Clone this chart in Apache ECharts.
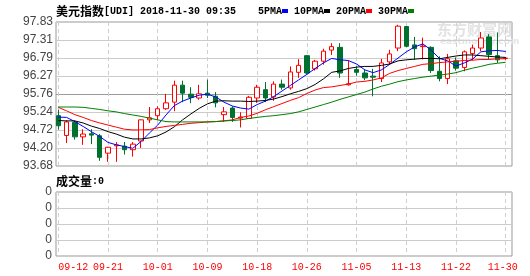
<!DOCTYPE html>
<html><head><meta charset="utf-8">
<script src="https://cdn.jsdelivr.net/npm/echarts@6/dist/echarts.min.js"></script>
<style>html,body{margin:0;padding:0;background:#fff}#c{width:530px;height:276px}</style>
</head><body><div id="c"></div>
<script>
const dates = ['09-12','09-13','09-14','09-17','09-18','09-20','09-21','09-24','09-25','09-26','09-27','09-28',
'10-01','10-02','10-03','10-04','10-05','10-08','10-09','10-10','10-11','10-12','10-15','10-16','10-18','10-19',
'10-22','10-23','10-24','10-25','10-26','10-29','10-30','10-31','11-01','11-02','11-05','11-06','11-07','11-08',
'11-09','11-12','11-13','11-14','11-15','11-16','11-19','11-20','11-22','11-23','11-26','11-27','11-28','11-29','11-30'];
const openV  = [95.13,94.56,94.94,94.52,94.61,94.55,94.05,94.26,94.25,94.15,94.40,95.01,95.13,95.33,95.52,96.01,95.75,95.64,95.78,95.69,
95.16,95.35,95.06,95.05,95.64,95.88,95.67,96.04,95.93,96.38,96.86,96.48,96.70,97.02,97.10,96.02,96.46,96.36,96.27,96.20,
96.68,97.08,97.70,97.17,97.12,97.10,96.41,96.20,96.71,96.52,96.92,97.08,97.40,96.86,96.78];
const closeV = [94.84,94.95,94.52,94.60,94.57,93.93,94.22,94.29,94.15,94.31,95.01,95.07,95.33,95.50,96.01,95.78,95.66,95.76,95.72,95.50,
95.24,95.08,95.09,95.66,95.95,95.64,96.04,95.95,96.39,96.58,96.36,96.70,96.99,97.12,96.36,96.05,96.38,96.22,96.24,96.65,
96.91,97.71,97.13,97.06,97.14,96.43,96.20,96.77,96.50,96.97,97.08,97.37,96.89,96.74,96.79];
const lowV   = [94.73,94.34,94.44,94.29,94.31,93.83,93.80,93.80,94.01,93.95,94.20,94.92,95.01,95.30,95.26,95.52,95.49,95.59,95.64,95.37,
94.95,94.95,94.79,95.04,95.50,95.52,95.56,95.88,95.88,96.22,96.32,96.43,96.60,96.88,96.22,96.00,96.28,96.15,95.69,96.10,
96.60,96.99,97.10,96.74,96.75,96.36,96.12,96.04,96.43,96.41,96.72,96.99,96.76,96.65,96.74];
const highV  = [95.30,95.00,94.99,94.74,94.74,94.60,94.23,94.37,94.37,94.37,95.02,95.38,95.40,95.76,96.14,96.14,95.95,96.02,96.17,95.81,
95.38,95.40,95.23,95.70,96.02,96.10,96.12,96.17,96.55,96.76,96.88,96.74,97.06,97.22,97.22,96.72,96.55,96.46,96.48,96.77,
97.03,97.75,97.71,97.40,97.38,97.13,96.84,96.91,96.81,97.01,97.18,97.54,97.48,97.53,96.82];
const ma5  = [95.09,95.08,94.96,94.82,94.67,94.53,94.36,94.29,94.24,94.19,94.39,94.63,94.86,95.15,95.42,95.55,95.64,95.72,95.75,95.67,
95.52,95.41,95.35,95.32,95.45,95.55,95.68,95.84,96.00,96.16,96.32,96.49,96.65,96.78,96.74,96.72,96.62,96.45,96.37,96.45,
96.61,96.79,96.97,97.11,97.20,97.02,96.78,96.71,96.56,96.65,96.76,96.97,97.00,97.01,96.98];
const ma10 = [94.99,94.98,94.98,94.92,94.83,94.76,94.67,94.60,94.51,94.46,94.46,94.49,94.55,94.66,94.81,95.01,95.18,95.34,95.47,95.55,
95.56,95.55,95.55,95.54,95.55,95.57,95.61,95.68,95.76,95.83,95.91,96.03,96.19,96.38,96.42,96.49,96.53,96.55,96.55,96.58,
96.62,96.71,96.74,96.76,96.78,96.78,96.77,96.81,96.85,96.88,96.88,96.86,96.84,96.82,96.81];
const ma20 = [95.37,95.27,95.16,95.08,94.99,94.92,94.86,94.80,94.74,94.72,94.72,94.73,94.78,94.82,94.85,94.88,94.91,94.93,94.95,94.96,
94.98,95.01,95.08,95.12,95.20,95.30,95.39,95.48,95.57,95.65,95.77,95.87,95.94,95.96,96.00,96.04,96.10,96.12,96.16,96.22,
96.35,96.43,96.49,96.55,96.61,96.63,96.66,96.68,96.70,96.72,96.73,96.75,96.75,96.77,96.77];
const ma30 = [95.38,95.38,95.38,95.37,95.34,95.31,95.27,95.24,95.19,95.15,95.11,95.06,95.01,94.96,94.95,94.95,94.95,94.95,94.95,94.96,
94.98,94.99,95.01,95.05,95.08,95.11,95.13,95.16,95.19,95.24,95.31,95.38,95.45,95.52,95.60,95.67,95.74,95.81,95.90,95.98,
96.04,96.11,96.16,96.20,96.24,96.27,96.30,96.33,96.37,96.44,96.50,96.55,96.61,96.64,96.67];
const volume = dates.map(() => 0);
const yTickLabels = ['93.68','94.20','94.72','95.24','95.76','96.27','96.79','97.31','97.83'];
const volTickLabels = ['0','0','0','0','0'];
const yMin = 93.68, yMax = 97.83;
const labelStep = 6;

const kData = openV.map((o, i) => [o, closeV[i], lowV[i], highV[i]]);
const MONO = 'Liberation Mono';
const CJK = 'Noto Sans CJK SC';
const RED = '#ff0000', DOWN = '#00702f';

const chart = echarts.init(document.getElementById('c'), null, {renderer: 'canvas'});
const frameGrid = {show: true, borderColor: '#999', borderWidth: 1, backgroundColor: 'transparent', outerBoundsMode: 'none', containLabel: false};
const dataGrid = {show: false, outerBoundsMode: 'none', containLabel: false};
const hiddenX = (g) => ({type: 'value', gridIndex: g, min: 0, max: 1, show: false});
const stepFn = (i) => i % labelStep === 0;

chart.setOption({
  animation: false,
  backgroundColor: '#fff',
  title: [
    {left: 56, top: 4, padding: 0,
     text: '{c|美元指数}{m|[UDI] 2018-11-30 09:35}',
     textStyle: {rich: {c: {fontFamily: CJK, fontSize: 12, color: '#000', lineHeight: 14},
                        m: {fontFamily: MONO, fontSize: 10, color: '#000', lineHeight: 14}}}},
    {left: 258, top: 4, padding: 0,
     text: '{m|5PMA}{b|}{m| 10PMA}{k|}{m| 20PMA}{r|}{m| 30PMA}{g|}',
     textStyle: {rich: {m: {fontFamily: MONO, fontSize: 10, color: '#000', lineHeight: 14},
                        b: {width: 6, height: 4, backgroundColor: '#0000ff'},
                        k: {width: 6, height: 4, backgroundColor: '#000000'},
                        r: {width: 6, height: 4, backgroundColor: '#ff0000'},
                        g: {width: 6, height: 4, backgroundColor: '#008000'}}}},
    {left: 56, top: 174, padding: 0,
     text: '{c|成交量}{m|:0}',
     textStyle: {rich: {c: {fontFamily: CJK, fontSize: 12, color: '#000', lineHeight: 14},
                        m: {fontFamily: MONO, fontSize: 10, color: '#000', lineHeight: 14}}}}
  ],
  graphic: [
    {type: 'text', left: 437, top: 22, z: 0, silent: true,
     style: {text: '东方财富网', font: 'bold 15px "Noto Sans CJK SC"', fill: '#e2e2e2'}},
    {type: 'text', left: 440, top: 37, z: 0, silent: true,
     style: {text: 'eastmoney.com', font: 'bold 9px "DejaVu Sans"', fill: '#e6e6e6'}}
  ],
  grid: [
    Object.assign({left: 56, top: 22, width: 456, height: 144}, frameGrid),
    Object.assign({left: 58.3, top: 22, width: 447.4, height: 144}, dataGrid),
    Object.assign({left: 56, top: 192, width: 456, height: 64}, frameGrid),
    Object.assign({left: 58.3, top: 192, width: 447.4, height: 64}, dataGrid)
  ],
  xAxis: [
    hiddenX(0),
    {type: 'category', gridIndex: 1, data: dates, boundaryGap: false,
     axisLine: {show: false}, axisTick: {show: false}, axisLabel: {show: false},
     splitLine: {show: true, interval: stepFn, lineStyle: {color: '#cfcfcf', type: [4, 3], width: 1}}},
    hiddenX(2),
    {type: 'category', gridIndex: 3, data: dates, boundaryGap: false,
     axisLine: {show: false}, axisTick: {show: false},
     axisLabel: {show: true, interval: stepFn, color: RED, fontFamily: MONO, fontSize: 10, margin: 6,
                 alignMinLabel: 'left', alignMaxLabel: 'center',
                 formatter: (v, i) => i === dates.length - 1 ? '{e|' + v + '}' : v,
                 rich: {e: {fontFamily: MONO, fontSize: 10, color: RED, padding: [0, 6, 0, 0]}}},
     splitLine: {show: true, interval: stepFn, lineStyle: {color: '#cfcfcf', type: [4, 3], width: 1}}}
  ],
  yAxis: [
    {type: 'value', gridIndex: 0, min: 0, max: yTickLabels.length - 1, interval: 1,
     axisLine: {show: false}, axisTick: {show: false},
     axisLabel: {color: '#444', fontFamily: 'Liberation Sans', fontSize: 12, margin: 3,
                 formatter: (v) => yTickLabels[Math.round(v)]},
     splitLine: {show: true, lineStyle: {width: 1,
        color: yTickLabels.map((t, i) => i === 4 ? '#9a9a9a' : '#cccccc')}}},
    {type: 'value', gridIndex: 1, min: yMin, max: yMax, show: false, scale: true},
    {type: 'value', gridIndex: 2, min: 0, max: volTickLabels.length - 1, interval: 1,
     axisLine: {show: false}, axisTick: {show: false},
     axisLabel: {color: '#444', fontFamily: 'Liberation Sans', fontSize: 12, margin: 4,
                 formatter: (v) => volTickLabels[Math.round(v)]},
     splitLine: {show: true, lineStyle: {color: '#cccccc', width: 1}}},
    {type: 'value', gridIndex: 3, min: 0, max: 1, show: false}
  ],
  series: [
    {type: 'candlestick', name: '美元指数', xAxisIndex: 1, yAxisIndex: 1, data: kData, barWidth: 5,
     itemStyle: {color: '#ffffff', color0: DOWN, borderColor: RED, borderColor0: DOWN, borderWidth: 1}},
    {type: 'line', name: '5PMA', xAxisIndex: 1, yAxisIndex: 1, data: ma5, symbol: 'none',
     lineStyle: {color: '#0000ff', width: 1}},
    {type: 'line', name: '10PMA', xAxisIndex: 1, yAxisIndex: 1, data: ma10, symbol: 'none',
     lineStyle: {color: '#000000', width: 1}},
    {type: 'line', name: '20PMA', xAxisIndex: 1, yAxisIndex: 1, data: ma20, symbol: 'none',
     lineStyle: {color: '#ff0000', width: 1}},
    {type: 'line', name: '30PMA', xAxisIndex: 1, yAxisIndex: 1, data: ma30, symbol: 'none',
     lineStyle: {color: '#008000', width: 1}},
    {type: 'bar', name: '成交量', xAxisIndex: 3, yAxisIndex: 3, data: volume}
  ]
});
</script></body></html>
